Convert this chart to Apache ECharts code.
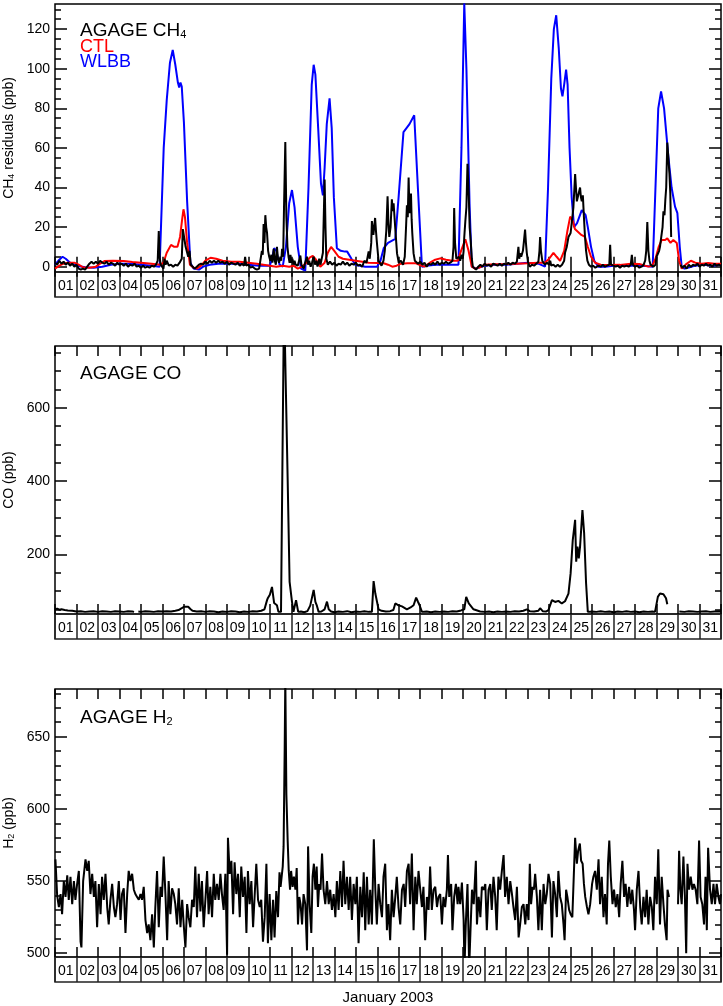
<!DOCTYPE html>
<html>
<head>
<meta charset="utf-8">
<script src="https://cdn.jsdelivr.net/npm/echarts@6/dist/echarts.min.js"></script>
<style>
html,body{margin:0;padding:0;background:#fff;}
#c{width:723px;height:1006px;}
</style>
</head>
<body>
<div id="c"></div>
<script>
// ---------------- DATA ----------------
const dayLabels = ['01','02','03','04','05','06','07','08','09','10','11','12','13','14','15','16','17','18','19','20','21','22','23','24','25','26','27','28','29','30','31'];

// CH4 panel ticks
const ch4Ticks = [0,20,40,60,80,100,120];
const ch4Minor = [0,5,10,15,20,25,30,35,40,45,50,55,60,65,70,75,80,85,90,95,100,105,110,115,120,125,130];
// CO panel ticks
const coTicks = [200,400,600];
const coMinor = [50,100,150,200,250,300,350,400,450,500,550,600,650,700,750];
// H2 panel ticks
const h2Ticks = [500,550,600,650];
const h2Minor = [500,510,520,530,540,550,560,570,580,590,600,610,620,630,640,650,660,670,680];

// [day of January (0 = Jan 1 00:00), value]
const ch4Agage = [[0.0,2],[0.1,1],[0.2,3],[0.3,1.5],[0.4,2.5],[0.5,1],[0.6,2],[0.7,0.5],[0.8,1.5],[0.9,0],[1.0,1],[1.1,-1],[1.2,-1.5],[1.3,-1],[1.4,-1.5],[1.5,0],[1.6,1.5],[1.7,2.5],[1.8,1.5],[1.9,2.5],[2.0,1.5],[2.1,3],[2.2,2],[2.3,1.5],[2.4,2.5],[2.5,1],[2.6,2],[2.7,1.5],[2.8,0.5],[2.9,2],[3.0,1],[3.1,1.5],[3.2,0.5],[3.3,1.5],[3.4,0],[3.5,1],[3.6,0.5],[3.7,1.5],[3.8,0],[3.9,0.5],[4.0,-0.5],[4.1,0.5],[4.2,-0.5],[4.3,0],[4.4,-0.5],[4.5,0.5],[4.6,0],[4.7,1],[4.78,3],[4.83,18],[4.87,5],[4.92,1],[5.0,2],[5.05,-1],[5.1,4],[5.15,1],[5.2,3],[5.3,0.5],[5.4,1],[5.5,0],[5.6,1],[5.7,0.5],[5.8,2],[5.9,4],[5.95,19],[6.02,19.5],[6.08,10],[6.13,11],[6.2,5],[6.26,8],[6.32,1],[6.4,0],[6.5,-1],[6.6,0],[6.7,1],[6.8,1.5],[6.9,1],[7.0,2.5],[7.1,1.5],[7.2,3],[7.3,2],[7.4,3],[7.5,2],[7.6,3],[7.7,2],[7.8,2.5],[7.9,1.5],[8.0,2.5],[8.1,1],[8.2,2],[8.3,1.5],[8.4,1],[8.5,2],[8.6,0.5],[8.7,1.5],[8.8,0.5],[8.85,5],[8.9,0.5],[9.0,1],[9.1,-0.5],[9.2,0],[9.3,-1],[9.4,-1.5],[9.5,-1],[9.58,0],[9.63,8],[9.67,6],[9.71,21.5],[9.75,12],[9.79,26],[9.83,20],[9.87,17],[9.92,8],[9.97,5],[10.02,3],[10.07,6],[10.12,2],[10.18,9],[10.23,3],[10.28,1],[10.33,10],[10.38,4],[10.43,2],[10.49,5],[10.53,3],[10.57,9],[10.62,5],[10.66,30],[10.72,63],[10.77,25],[10.82,10],[10.87,5],[10.92,2],[10.96,6],[11.0,2],[11.05,4],[11.1,1],[11.15,3],[11.2,1],[11.25,2],[11.3,0.5],[11.36,3],[11.42,5.6],[11.47,1],[11.52,0],[11.58,-1],[11.64,2],[11.7,1],[11.73,5],[11.78,1],[11.83,3],[11.9,0],[11.96,2],[12.04,5],[12.1,1],[12.16,3],[12.22,0],[12.3,4],[12.36,1],[12.42,2],[12.47,7],[12.52,30],[12.55,44],[12.59,20],[12.63,4],[12.7,1],[12.8,2.5],[12.9,1],[13.0,2],[13.1,0.5],[13.2,1.5],[13.3,1],[13.4,2.5],[13.5,1],[13.6,2],[13.7,0.5],[13.8,1.5],[13.9,1],[14.0,2],[14.1,0.5],[14.2,1],[14.3,0],[14.4,3],[14.5,2],[14.6,7.7],[14.65,4],[14.72,12],[14.75,23],[14.82,16],[14.9,24.6],[14.94,18],[14.98,12.6],[15.06,3],[15.14,2],[15.2,0.5],[15.29,3],[15.35,8],[15.42,18],[15.48,35.5],[15.52,22],[15.56,15],[15.62,20],[15.68,34],[15.72,28],[15.76,32],[15.84,19],[15.92,6.7],[16.0,2],[16.1,3],[16.2,1],[16.28,5],[16.34,20],[16.38,31],[16.42,25],[16.46,45],[16.5,27],[16.54,30],[16.57,37],[16.6,24],[16.63,17],[16.69,6.7],[16.75,3],[16.8,4],[16.9,1.5],[17.0,2.5],[17.1,1],[17.2,2],[17.3,0],[17.4,1.5],[17.5,1],[17.6,2],[17.7,1],[17.8,2.5],[17.9,1],[18.0,2],[18.1,1.5],[18.2,2.5],[18.3,1.5],[18.4,2],[18.5,3],[18.55,10],[18.58,29.6],[18.62,12],[18.68,4],[18.74,3],[18.8,5],[18.86,3],[18.92,6],[18.98,4],[19.02,8],[19.05,15],[19.1,23],[19.15,30],[19.2,52],[19.26,36],[19.3,20],[19.35,13],[19.4,4],[19.45,0],[19.52,-1],[19.6,-1.5],[19.7,0],[19.8,1],[19.9,0],[20.0,1.5],[20.1,0.5],[20.2,1],[20.3,0],[20.4,1.5],[20.5,1],[20.6,0.5],[20.7,1.5],[20.8,0.5],[20.9,1.5],[21.0,1],[21.1,2],[21.2,1],[21.3,2],[21.4,1.5],[21.5,2.5],[21.57,10],[21.61,4],[21.65,6.7],[21.7,5],[21.78,8],[21.82,12],[21.88,18.7],[21.92,12],[21.96,7],[22.02,2],[22.1,0],[22.2,1],[22.3,0.5],[22.4,1.5],[22.5,2.5],[22.55,8],[22.58,15],[22.62,8],[22.68,3],[22.8,1],[22.9,2],[23.0,1],[23.05,3],[23.1,0.5],[23.2,1],[23.3,0],[23.4,1],[23.5,0],[23.6,1],[23.7,3],[23.74,7],[23.82,10],[23.9,15],[24.0,17],[24.06,18],[24.13,30],[24.21,46.8],[24.26,38],[24.29,33],[24.36,32],[24.44,40],[24.48,35],[24.52,33],[24.57,36],[24.62,25],[24.67,15],[24.72,8],[24.78,3],[24.85,1],[24.95,0],[25.05,0.5],[25.15,-0.5],[25.3,0.5],[25.4,0],[25.5,1],[25.6,0],[25.7,0.5],[25.8,1],[25.84,11],[25.88,1],[26.0,0.5],[26.1,0],[26.2,0.5],[26.3,-0.5],[26.4,0.5],[26.5,0],[26.6,0.5],[26.7,0],[26.8,1],[26.85,6],[26.9,1],[27.0,0],[27.1,0.5],[27.2,-0.5],[27.3,0],[27.4,1],[27.47,3],[27.52,8],[27.57,22.6],[27.62,8],[27.67,3],[27.72,1],[27.78,2],[27.85,0],[27.95,1],[28.0,5],[28.06,4],[28.12,8],[28.16,10],[28.22,15],[28.28,20],[28.32,28],[28.37,26],[28.41,34],[28.45,40],[28.5,62.7],[28.55,55],[28.6,47],[28.64,37],[28.68,15],[28.9,'-'],[29.12,1],[29.2,-0.5],[29.3,0.5],[29.4,-1],[29.5,1],[29.6,0],[29.7,1],[29.8,0.5],[29.9,1.5],[30.0,0],[30.1,1],[30.2,0.5],[30.3,1.5],[30.4,0.5],[30.5,1],[30.6,0],[30.7,1.5],[30.8,0.5],[30.9,1],[31.0,0.5]];

const ch4Ctl = [[0,-1],[0.2,0.5],[0.4,1.5],[0.6,2],[0.9,2],[1.1,1],[1.3,-0.3],[1.6,-0.5],[1.9,0],[2.1,1.5],[2.3,2.8],[2.7,3],[3.2,2.9],[3.6,2.3],[4.0,2],[4.5,1.5],[4.9,1],[5.05,2],[5.2,7],[5.4,11],[5.55,10],[5.7,10],[5.82,15],[5.92,24],[5.98,29],[6.05,25],[6.15,12],[6.28,1],[6.45,-0.5],[6.6,-1],[6.8,0.5],[7.0,3],[7.24,4.5],[7.5,4],[7.8,3],[8.2,2.5],[8.6,2.5],[9.0,2],[9.4,1.5],[9.7,1],[10.0,0.5],[10.3,0],[10.6,0.5],[10.9,0],[11.1,0.5],[11.3,-1],[11.5,0],[11.7,2],[11.85,4.5],[12.0,5.4],[12.15,3.5],[12.35,0],[12.55,2],[12.7,7],[12.85,10],[13.0,8],[13.2,5],[13.4,4],[13.7,3.5],[14.0,3],[14.3,2.5],[14.6,2],[15.0,1.8],[15.3,1.7],[15.5,1],[15.7,0],[15.9,0.5],[16.1,1.5],[16.4,1.7],[16.8,1.7],[17.05,0.5],[17.2,0],[17.45,2],[17.7,3.5],[17.93,4.2],[18.2,3.5],[18.5,3],[18.75,3],[18.9,8],[19.1,13.8],[19.25,8],[19.4,0],[19.55,-1],[19.75,-0.5],[20.0,1],[20.5,1.2],[21.0,1.3],[21.5,1.5],[22.0,1.7],[22.5,2],[22.8,2],[23.0,4],[23.2,7],[23.35,5],[23.51,2.9],[23.7,8],[23.85,18],[23.98,25.3],[24.1,23],[24.2,19],[24.3,18],[24.5,16],[24.67,15],[24.8,10],[24.95,5],[25.14,2],[25.4,1],[25.8,0.8],[26.3,0.9],[26.8,1.5],[27.2,1.3],[27.62,0],[27.8,0.5],[27.95,4],[28.1,10],[28.24,13.5],[28.4,13.5],[28.5,14.3],[28.65,12],[28.78,13.5],[28.94,12],[29.05,3],[29.17,-1],[29.35,1],[29.6,3],[29.8,2],[30.1,1.5],[30.4,1.8],[30.7,1.5],[31.0,1.5]];

const ch4Wlbb = [[0,1],[0.2,3.5],[0.35,5],[0.5,4],[0.7,2],[1.0,0.5],[1.4,-0.3],[1.8,-0.5],[2.2,0],[2.6,1],[3.0,1.5],[3.5,1.5],[4.0,1],[4.5,0.5],[4.87,0],[5.06,60],[5.2,84],[5.35,103],[5.48,109.5],[5.6,102],[5.72,93],[5.78,90.5],[5.84,93],[5.9,91],[6.0,73],[6.15,33],[6.3,2],[6.45,-1],[6.7,-1.5],[6.9,0],[7.2,1],[7.6,1.5],[8.0,1.5],[8.5,1.5],[9.0,1],[9.5,0.5],[10.0,0.5],[10.1,4],[10.2,9.3],[10.3,8],[10.45,1],[10.6,0],[10.75,10],[10.9,32],[11.03,38.7],[11.15,30],[11.3,10],[11.45,-1],[11.5,-2],[11.65,-2],[11.8,40],[11.95,92],[12.04,102],[12.12,97],[12.25,70],[12.38,42],[12.47,36],[12.55,50],[12.65,72],[12.78,85],[12.88,70],[12.98,35],[13.12,9.3],[13.3,8],[13.5,7.6],[13.6,7.6],[13.8,4],[13.98,1],[14.2,0.5],[14.44,0],[14.99,0],[15.15,3],[15.3,9.3],[15.5,12],[15.84,14],[16.0,36],[16.22,68],[16.5,72],[16.72,76.5],[16.9,38],[17.08,0],[17.3,0.5],[17.7,1],[18.2,1],[18.78,1],[18.92,60],[19.05,133],[19.15,100],[19.3,30],[19.4,0],[19.6,-1],[20.0,0.5],[20.5,1],[21.0,1],[21.5,1.5],[22.0,2],[22.5,1.5],[22.81,0],[22.95,40],[23.1,95],[23.22,120],[23.33,127],[23.45,110],[23.55,90],[23.62,86],[23.7,92],[23.79,99.5],[23.86,92],[23.95,60],[24.05,35],[24.16,20],[24.3,22],[24.52,28.6],[24.7,26],[24.8,20],[24.95,10],[25.1,3],[25.29,0],[25.6,0],[26.0,0.5],[26.5,0.5],[27.0,0.5],[27.5,0.3],[27.82,0],[27.95,40],[28.08,80],[28.21,88.5],[28.35,80],[28.55,55.6],[28.7,40],[28.86,30.3],[28.97,27],[29.08,10],[29.17,0],[29.3,-1],[29.5,-0.5],[29.8,0.5],[30.2,1],[30.6,0.5],[31,1]];

const coAgage = [[0,50],[0.1,52],[0.2,49],[0.3,50],[0.45,48],[0.6,47],[0.8,46],[1.0,44],[1.2,45],[1.4,43],[1.6,44],[1.8,45],[2.0,43],[2.2,45],[2.4,44],[2.6,43],[2.8,45],[3.0,44],[3.2,43],[3.4,45],[3.6,44],[3.68,43],[3.78,'-'],[3.88,44],[4.0,43],[4.2,45],[4.4,44],[4.6,43],[4.8,45],[5.0,44],[5.2,45],[5.4,44],[5.6,46],[5.75,48],[5.9,53],[6.0,57],[6.09,59],[6.2,57],[6.3,51],[6.4,46],[6.6,44],[6.8,45],[7.0,43],[7.2,45],[7.4,44],[7.6,42],[7.8,44],[8.0,43],[8.2,45],[8.4,44],[8.6,42],[8.8,44],[9.0,43],[9.2,45],[9.4,44],[9.6,46],[9.75,50],[9.87,75],[9.91,81],[10.0,90],[10.1,111],[10.2,67],[10.28,70],[10.33,61],[10.4,43],[10.52,43],[10.56,45],[10.66,900],[10.83,403],[10.92,125],[11.03,71],[11.1,43],[11.22,75],[11.32,43],[11.45,44],[11.6,42],[11.75,45],[11.88,60],[11.95,55],[12.04,103],[12.12,70],[12.19,60],[12.27,43],[12.4,44],[12.55,50],[12.66,71],[12.74,50],[12.85,44],[13.0,42],[13.2,44],[13.4,43],[13.6,45],[13.8,42],[14.0,44],[14.2,43],[14.4,45],[14.6,43],[14.75,43],[14.83,127],[14.91,93],[15.06,50],[15.2,46],[15.4,44],[15.6,45],[15.75,48],[15.84,66],[15.99,61],[16.15,58],[16.38,50],[16.55,55],[16.69,61],[16.81,82],[16.9,70],[16.97,61],[17.08,43],[17.3,44],[17.5,42],[17.7,44],[17.9,43],[18.1,44],[18.3,43],[18.5,45],[18.7,44],[18.9,47],[19.05,50],[19.14,84],[19.26,66],[19.48,50],[19.79,44],[20.0,43],[20.2,44],[20.4,42],[20.6,44],[20.8,43],[21.0,44],[21.2,43],[21.4,45],[21.6,44],[21.8,46],[21.96,50],[22.1,45],[22.3,44],[22.5,46],[22.58,53],[22.7,45],[22.85,44],[22.97,48],[23.13,75],[23.28,70],[23.43,73],[23.59,66],[23.74,72],[23.9,93],[24.0,148],[24.1,239],[24.21,294],[24.26,180],[24.32,221],[24.38,189],[24.44,221],[24.55,321],[24.63,257],[24.72,121],[24.8,43],[25.0,44],[25.2,43],[25.4,45],[25.6,43],[25.8,44],[26.0,42],[26.2,44],[26.4,43],[26.6,45],[26.8,43],[27.0,44],[27.2,42],[27.4,44],[27.6,43],[27.8,44],[27.93,43],[28.06,84],[28.16,93],[28.32,91],[28.44,80],[28.5,64],[28.8,'-'],[29.06,44],[29.3,43],[29.5,45],[29.7,44],[29.9,43],[30.1,44],[30.3,45],[30.5,43],[30.7,44],[30.9,45],[31.0,44]];

const h2Agage = [[0.02,565],[0.10,540],[0.18,532],[0.26,541],[0.33,527],[0.41,550],[0.49,539],[0.57,554],[0.64,537],[0.72,553],[0.80,534],[0.88,550],[0.95,537],[1.03,548],[1.11,557],[1.19,508],[1.23,504],[1.31,550],[1.42,565],[1.50,557],[1.57,564],[1.65,541],[1.73,555],[1.81,539],[1.88,550],[1.96,518],[2.04,548],[2.12,527],[2.19,553],[2.27,537],[2.35,555],[2.43,532],[2.50,520],[2.58,537],[2.66,548],[2.74,532],[2.81,525],[2.89,534],[2.97,550],[3.05,523],[3.12,541],[3.20,545],[3.28,514],[3.36,541],[3.43,557],[3.51,550],[3.59,555],[3.67,544],[3.74,541],[3.82,539],[3.90,537],[3.98,541],[4.05,537],[4.13,546],[4.21,523],[4.29,514],[4.36,520],[4.44,509],[4.52,527],[4.60,504],[4.67,532],[4.75,557],[4.83,518],[4.91,546],[4.98,539],[5.06,567],[5.14,541],[5.22,509],[5.29,550],[5.37,527],[5.45,545],[5.53,541],[5.60,534],[5.68,520],[5.76,545],[5.84,518],[5.92,537],[5.99,520],[6.07,504],[6.15,534],[6.22,525],[6.30,518],[6.38,537],[6.46,532],[6.53,560],[6.61,525],[6.69,555],[6.77,529],[6.84,550],[6.92,518],[7.00,537],[7.08,557],[7.15,527],[7.23,546],[7.31,525],[7.39,555],[7.46,537],[7.54,548],[7.62,537],[7.70,555],[7.77,541],[7.85,530],[7.93,555],[8.01,499],[8.05,580],[8.13,555],[8.21,564],[8.29,527],[8.36,563],[8.44,541],[8.52,555],[8.60,525],[8.67,560],[8.75,539],[8.83,553],[8.91,514],[8.98,557],[9.06,534],[9.14,550],[9.22,518],[9.29,539],[9.37,562],[9.45,537],[9.53,532],[9.60,537],[9.68,508],[9.76,525],[9.84,562],[9.91,507],[9.99,541],[10.07,509],[10.15,537],[10.22,511],[10.30,543],[10.38,525],[10.45,556],[10.5,546],[10.6,560],[10.64,574],[10.69,640],[10.72,690],[10.77,610],[10.83,578],[10.88,557],[10.94,544],[10.99,557],[11.06,546],[11.12,553],[11.19,544],[11.25,559],[11.31,520],[11.37,539],[11.43,534],[11.5,520],[11.57,541],[11.65,534],[11.73,502],[11.78,574],[11.85,534],[11.93,514],[11.99,553],[12.05,562],[12.12,544],[12.18,560],[12.24,532],[12.3,548],[12.36,544],[12.43,569],[12.5,544],[12.58,534],[12.66,550],[12.74,534],[12.81,544],[12.89,530],[12.97,541],[13.05,525],[13.12,550],[13.2,530],[13.28,557],[13.36,532],[13.43,564],[13.51,534],[13.59,553],[13.67,530],[13.74,553],[13.82,523],[13.9,548],[13.98,534],[14.05,553],[14.13,507],[14.21,546],[14.29,525],[14.37,556],[14.44,516],[14.52,553],[14.6,520],[14.67,544],[14.75,520],[14.84,579],[14.91,544],[14.98,520],[15.06,548],[15.14,534],[15.22,525],[15.29,553],[15.37,562],[15.45,516],[15.52,534],[15.6,509],[15.68,544],[15.76,525],[15.84,539],[15.91,553],[15.99,532],[16.07,520],[16.15,544],[16.23,548],[16.3,532],[16.38,557],[16.46,562],[16.53,534],[16.61,569],[16.69,516],[16.77,553],[16.84,534],[16.92,557],[17.0,544],[17.08,532],[17.15,546],[17.23,509],[17.31,539],[17.39,530],[17.46,560],[17.54,530],[17.62,544],[17.7,546],[17.78,532],[17.85,539],[17.93,541],[18.01,520],[18.08,539],[18.16,532],[18.24,544],[18.29,568],[18.35,539],[18.44,548],[18.5,516],[18.58,539],[18.66,548],[18.74,534],[18.78,546],[18.86,534],[18.94,549],[19.02,523],[19.06,490],[19.12,520],[19.2,548],[19.28,490],[19.34,516],[19.41,544],[19.49,534],[19.59,564],[19.64,520],[19.72,539],[19.8,525],[19.87,546],[19.95,544],[20.03,548],[20.1,516],[20.18,544],[20.26,548],[20.33,530],[20.41,553],[20.49,539],[20.56,516],[20.64,553],[20.72,544],[20.8,557],[20.88,568],[20.95,539],[21.03,553],[21.11,534],[21.19,550],[21.27,541],[21.34,532],[21.42,523],[21.5,546],[21.58,511],[21.65,520],[21.73,532],[21.81,534],[21.89,520],[21.96,534],[22.04,523],[22.1,562],[22.16,534],[22.23,546],[22.29,544],[22.35,555],[22.43,539],[22.5,516],[22.58,544],[22.66,516],[22.74,548],[22.82,534],[22.89,541],[22.97,555],[23.05,548],[23.13,511],[23.2,550],[23.28,541],[23.36,525],[23.43,557],[23.51,539],[23.59,534],[23.67,520],[23.72,509],[23.79,544],[23.85,539],[23.93,530],[24.0,527],[24.08,525],[24.14,524],[24.21,580],[24.29,562],[24.35,571],[24.43,576],[24.49,564],[24.56,562],[24.62,548],[24.68,539],[24.76,532],[24.83,527],[24.91,534],[25.0,548],[25.06,553],[25.14,557],[25.22,544],[25.3,565],[25.37,534],[25.45,553],[25.53,525],[25.6,541],[25.68,520],[25.74,562],[25.8,578],[25.87,553],[25.95,534],[26.02,544],[26.1,532],[26.18,541],[26.26,525],[26.33,548],[26.41,564],[26.49,539],[26.56,548],[26.64,532],[26.72,546],[26.8,534],[26.87,544],[26.95,530],[27.0,516],[27.08,544],[27.16,557],[27.24,532],[27.31,520],[27.39,539],[27.47,525],[27.54,544],[27.62,520],[27.7,539],[27.78,532],[27.85,516],[27.93,553],[28.01,534],[28.08,572],[28.16,520],[28.24,553],[28.32,534],[28.39,520],[28.47,509],[28.51,544],[28.58,539],[28.8,'-'],[29.0,534],[29.05,571],[29.11,544],[29.17,534],[29.25,567],[29.32,539],[29.38,500],[29.44,562],[29.51,544],[29.59,553],[29.67,544],[29.74,548],[29.82,544],[29.9,534],[29.98,578],[30.05,539],[30.13,534],[30.21,520],[30.28,553],[30.34,516],[30.4,573],[30.49,544],[30.57,534],[30.65,548],[30.72,534],[30.8,548],[30.88,539],[30.95,534],[31.0,541]];

// ---------------- CHART ----------------
const F = 'Liberation Sans, Arial, Helvetica, sans-serif';
const chart = echarts.init(document.getElementById('c'), null, {renderer:'canvas'});

const panels = [
  {top:4,   min:-2.7, max:132.7, major:ch4Ticks, minor:ch4Minor, name:'{a|CH}{s|4}{a| residuals (ppb)}'},
  {top:346, min:37.2, max:768.3, major:coTicks,  minor:coMinor,  name:'{a|CO (ppb)}'},
  {top:689, min:497.4,max:683.0, major:h2Ticks,  minor:h2Minor,  name:'{a|H}{s|2}{a| (ppb)}'}
];
const LEFT = 55, WIDTH = 666, MH = 268, SH = 25;
const grids = [], xAxes = [], yAxes = [];
panels.forEach((p, i) => {
  grids.push({left:LEFT, top:p.top, width:WIDTH, height:MH, show:true, borderColor:'#000', borderWidth:1.5,
    backgroundColor:'transparent', outerBoundsMode:'none', containLabel:false});
  grids.push({left:LEFT, top:p.top+MH, width:WIDTH, height:SH, show:true, borderColor:'#222', borderWidth:1.5,
    backgroundColor:'transparent', outerBoundsMode:'none', containLabel:false});
  const g = 2*i;
  const tickX = {show:true, inside:true, length:10, lineStyle:{color:'#000', width:1.5}};
  xAxes.push({gridIndex:g, type:'value', min:0, max:31, interval:1, position:'bottom',
    axisLine:{show:false}, axisTick:tickX, axisLabel:{show:false}, splitLine:{show:false}});
  xAxes.push({gridIndex:g, type:'value', min:0, max:31, interval:1, position:'top',
    axisLine:{show:false}, axisTick:tickX, axisLabel:{show:false}, splitLine:{show:false}});
  xAxes.push({gridIndex:g+1, type:'category', data:dayLabels, boundaryGap:true, position:'bottom',
    axisLine:{show:false}, axisTick:{show:false},
    axisLabel:{show:true, inside:true, interval:0, margin:4, fontSize:14, fontFamily:F, color:'#000'},
    splitLine:{show:true, interval:0, lineStyle:{color:'#222', width:1.5}}});
  const base = {gridIndex:g, type:'value', min:p.min, max:p.max, axisLine:{show:false}, splitLine:{show:false}};
  yAxes.push(Object.assign({}, base, {position:'left',
    axisTick:{show:true, inside:true, length:12, customValues:p.major, lineStyle:{color:'#000', width:1.5}},
    axisLabel:{show:true, customValues:p.major, margin:5, fontSize:14, fontFamily:F, color:'#000'},
    name:p.name, nameLocation:'middle', nameRotate:90, nameGap:36,
    nameTextStyle:{rich:{a:{fontSize:14, fontFamily:F, color:'#000'}, s:{fontSize:9, fontFamily:F, color:'#000', verticalAlign:'bottom'}}}}));
  yAxes.push(Object.assign({}, base, {position:'left',
    axisTick:{show:true, inside:true, length:6, customValues:p.minor, lineStyle:{color:'#000', width:1.5}},
    axisLabel:{show:false}}));
  yAxes.push(Object.assign({}, base, {position:'right',
    axisTick:{show:true, inside:true, length:12, customValues:p.major, lineStyle:{color:'#000', width:1.5}},
    axisLabel:{show:false}}));
  yAxes.push(Object.assign({}, base, {position:'right',
    axisTick:{show:true, inside:true, length:6, customValues:p.minor, lineStyle:{color:'#000', width:1.5}},
    axisLabel:{show:false}}));
  yAxes.push({gridIndex:g+1, type:'value', show:false, min:0, max:1});
});

function line(data, color, panel, z) {
  return {type:'line', data:data, xAxisIndex:3*panel, yAxisIndex:5*panel, showSymbol:false, symbol:'none',
    clip:true, z:z, lineStyle:{color:color, width:2}, itemStyle:{color:color}, animation:false, connectNulls:false};
}

const rich = {a:{fontSize:19, fontFamily:F, fill:'#000'}, s:{fontSize:11, fontFamily:F, fill:'#000', verticalAlign:'bottom'}};
chart.setOption({
  backgroundColor:'#fff',
  animation:false,
  grid:grids, xAxis:xAxes, yAxis:yAxes,
  series:[
    line(ch4Wlbb, '#0000ff', 0, 2),
    line(ch4Ctl, '#ff0000', 0, 3),
    line(ch4Agage, '#000000', 0, 4),
    line(coAgage, '#000000', 1, 4),
    line(h2Agage, '#000000', 2, 4)
  ],
  graphic:[
    {type:'text', x:80, y:21, style:{text:'{a|AGAGE CH}{s|4}', rich:rich}},
    {type:'text', x:80, y:38, style:{text:'CTL', font:'18px ' + F, fill:'#ff0000'}},
    {type:'text', x:80, y:53, style:{text:'WLBB', font:'18px ' + F, fill:'#0000ff'}},
    {type:'text', x:80, y:364, style:{text:'{a|AGAGE CO}', rich:rich}},
    {type:'text', x:80, y:708, style:{text:'{a|AGAGE H}{s|2}', rich:rich}},
    {type:'text', x:388, y:990, style:{text:'January 2003', font:'15px ' + F, fill:'#000', align:'center'}}
  ]
});
</script>
</body>
</html>
